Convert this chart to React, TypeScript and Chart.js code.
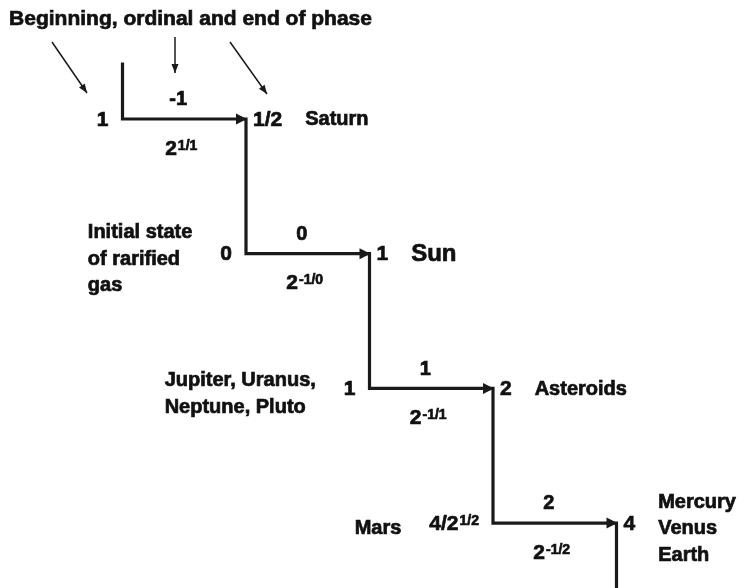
import React, { useEffect, useRef } from "react";
import { Chart, registerables } from "chart.js";

Chart.register(...registerables);

// ---- data ----
const TITLE = "Beginning, ordinal and end of phase";
const phaseOrdinals = [-1, 0, 1, 2];
const phaseStartValues = ["1", "0", "1", "4/2^1/2"];
const phaseEndValues = ["1/2", "1", "2", "4"];
const phaseFactors = ["2^1/1", "2^-1/0", "2^-1/1", "2^-1/2"];
const startBodies: string[][] = [[], ["Initial state", "of rarified", "gas"], ["Jupiter, Uranus,", "Neptune, Pluto"], ["Mars"]];
const endBodies: string[][] = [["Saturn"], ["Sun"], ["Asteroids"], ["Mercury", "Venus", "Earth"]];
const emphasizedBody = "Sun";

// ---- style / layout ----
const INK = "#1a1a1a";
const TEXT = "#111";
const FONT = "'Liberation Sans', Arial, Helvetica, sans-serif";
const LEAD_IN = 0.42;
const TAIL = 0.7;

function buildSteps() {
  const pts: { x: number; y: number }[] = [{ x: 0, y: -LEAD_IN }];
  phaseOrdinals.forEach((_, i) => {
    pts.push({ x: i, y: i });
    pts.push({ x: i + 1, y: i });
  });
  const n = phaseOrdinals.length;
  pts.push({ x: n, y: n - 1 + TAIL });
  return pts;
}

function splitSup(text: string): [string, string] {
  const k = text.indexOf("^");
  return k < 0 ? [text, ""] : [text.slice(0, k), text.slice(k + 1)];
}

function heavyText(ctx: CanvasRenderingContext2D, s: string, x: number, y: number) {
  ctx.fillText(s, x, y);
  ctx.lineWidth = 0.7;
  ctx.strokeStyle = TEXT;
  ctx.strokeText(s, x, y);
}

function drawRich(
  ctx: CanvasRenderingContext2D,
  text: string,
  x: number,
  y: number,
  align: "left" | "right" | "center",
  size: number,
  supSize = 14
) {
  const [base, sup] = splitSup(text);
  ctx.font = `bold ${size}px ${FONT}`;
  const wb = ctx.measureText(base).width;
  let ws = 0;
  if (sup) {
    ctx.font = `bold ${supSize}px ${FONT}`;
    ws = ctx.measureText(sup).width + 1;
  }
  const w = wb + ws;
  const left = align === "left" ? x : align === "right" ? x - w : x - w / 2;
  const baseline = y + (size * 0.716) / 2;
  ctx.textAlign = "left";
  ctx.textBaseline = "alphabetic";
  ctx.fillStyle = TEXT;
  ctx.font = `bold ${size}px ${FONT}`;
  heavyText(ctx, base, left, baseline);
  if (sup) {
    ctx.font = `bold ${supSize}px ${FONT}`;
    heavyText(ctx, sup, left + wb + 1, baseline - (size - supSize) * 0.716);
  }
  return { left, right: left + w };
}

function drawBlock(ctx: CanvasRenderingContext2D, lines: string[], left: number, cy: number, size: number) {
  const lh = 26.5;
  const top = cy - ((lines.length - 1) * lh) / 2;
  lines.forEach((ln, k) => drawRich(ctx, ln, left, top + k * lh, "left", size));
}

function blockWidth(ctx: CanvasRenderingContext2D, lines: string[], size: number) {
  ctx.font = `bold ${size}px ${FONT}`;
  return lines.reduce((m, l) => Math.max(m, ctx.measureText(l).width), 0);
}

function pointer(ctx: CanvasRenderingContext2D, x1: number, y1: number, x2: number, y2: number) {
  ctx.strokeStyle = INK;
  ctx.fillStyle = INK;
  ctx.lineWidth = 1.5;
  ctx.beginPath();
  ctx.moveTo(x1, y1);
  ctx.lineTo(x2, y2);
  ctx.stroke();
  const a = Math.atan2(y2 - y1, x2 - x1);
  const L = 9, H = 3.5;
  ctx.beginPath();
  ctx.moveTo(x2, y2);
  ctx.lineTo(x2 - L * Math.cos(a) + H * Math.sin(a), y2 - L * Math.sin(a) - H * Math.cos(a));
  ctx.lineTo(x2 - L * Math.cos(a) - H * Math.sin(a), y2 - L * Math.sin(a) + H * Math.cos(a));
  ctx.closePath();
  ctx.fill();
}

const diagramPlugin = {
  id: "diagram",
  afterDatasetsDraw(chart: any) {
    const ctx: CanvasRenderingContext2D = chart.ctx;
    const X = (v: number) => chart.scales.x.getPixelForValue(v);
    const Y = (v: number) => chart.scales.y.getPixelForValue(v);
    ctx.save();

    phaseOrdinals.forEach((ord, i) => {
      const xs = X(i), xe = X(i + 1), y = Y(i), mid = (xs + xe) / 2;
      // arrowhead
      ctx.fillStyle = INK;
      ctx.beginPath();
      ctx.moveTo(xe + 1, y);
      ctx.lineTo(xe - 10, y - 5.5);
      ctx.lineTo(xe - 10, y + 5.5);
      ctx.closePath();
      ctx.fill();

      // ordinal above
      drawRich(ctx, String(ord), mid - 6, y - 21, "center", 20);
      // factor below
      drawRich(ctx, phaseFactors[i], mid - 3, y + 28, "center", 21, 14);
      // start value
      const sv = drawRich(ctx, phaseStartValues[i], xs - 14, y - 1, "right", 21, 14);
      // end value
      const ev = drawRich(ctx, phaseEndValues[i], xe + 7, y - 1, "left", 21, 14);
      // bodies at the end of the phase
      const eb = endBodies[i];
      const isEmph = eb.length === 1 && eb[0] === emphasizedBody;
      drawBlock(ctx, eb, ev.right + 23, eb.length > 1 ? y + 4 : y - 1, isEmph ? 24 : 20);
      // bodies at the start
      const sb = startBodies[i];
      if (sb.length) {
        const bw = blockWidth(ctx, sb, 20);
        drawBlock(ctx, sb, sv.left - 28 - bw, y + 4, 20);
      }
    });

    // title and pointers
    const x0 = X(0), y0 = Y(0), x1 = X(1);
    ctx.font = `bold 21px ${FONT}`;
    ctx.textAlign = "center";
    ctx.textBaseline = "middle";
    ctx.fillStyle = TEXT;
    heavyText(ctx, TITLE, x0 + 68, 19);
    pointer(ctx, x0 - 70.5, y0 - 77, x0 - 35.5, y0 - 26);
    pointer(ctx, x0 + 52.5, y0 - 82, x0 + 52.5, y0 - 46);
    pointer(ctx, x1 - 16, y0 - 77, x1 + 21, y0 - 25);
    ctx.restore();
  },
};

export default function App() {
  const ref = useRef<HTMLCanvasElement>(null);
  useEffect(() => {
    if (!ref.current) return;
    const chart = new Chart(ref.current, {
      type: "line",
      data: {
        datasets: [
          {
            data: buildSteps(),
            borderColor: INK,
            borderWidth: 3.2,
            pointRadius: 0,
            tension: 0,
            fill: false,
            borderJoinStyle: "miter",
            borderCapStyle: "butt",
          },
        ],
      },
      options: {
        animation: false,
        responsive: true,
        maintainAspectRatio: false,
        layout: { padding: 0 },
        parsing: false,
        plugins: { legend: { display: false }, tooltip: { enabled: false }, title: { display: false } },
        events: [],
        scales: {
          x: { type: "linear", min: -122.5 / 123.5, max: (745 - 122.5) / 123.5, display: false },
          y: { type: "linear", min: -119 / 134.7, max: (588 - 119) / 134.7, reverse: true, display: false },
        },
      },
      plugins: [diagramPlugin],
    } as any);
    return () => chart.destroy();
  }, []);
  return (
    <div style={{ position: "absolute", left: 0, top: 0, width: 745, height: 588, background: "#fff" }}>
      <canvas ref={ref} />
    </div>
  );
}
